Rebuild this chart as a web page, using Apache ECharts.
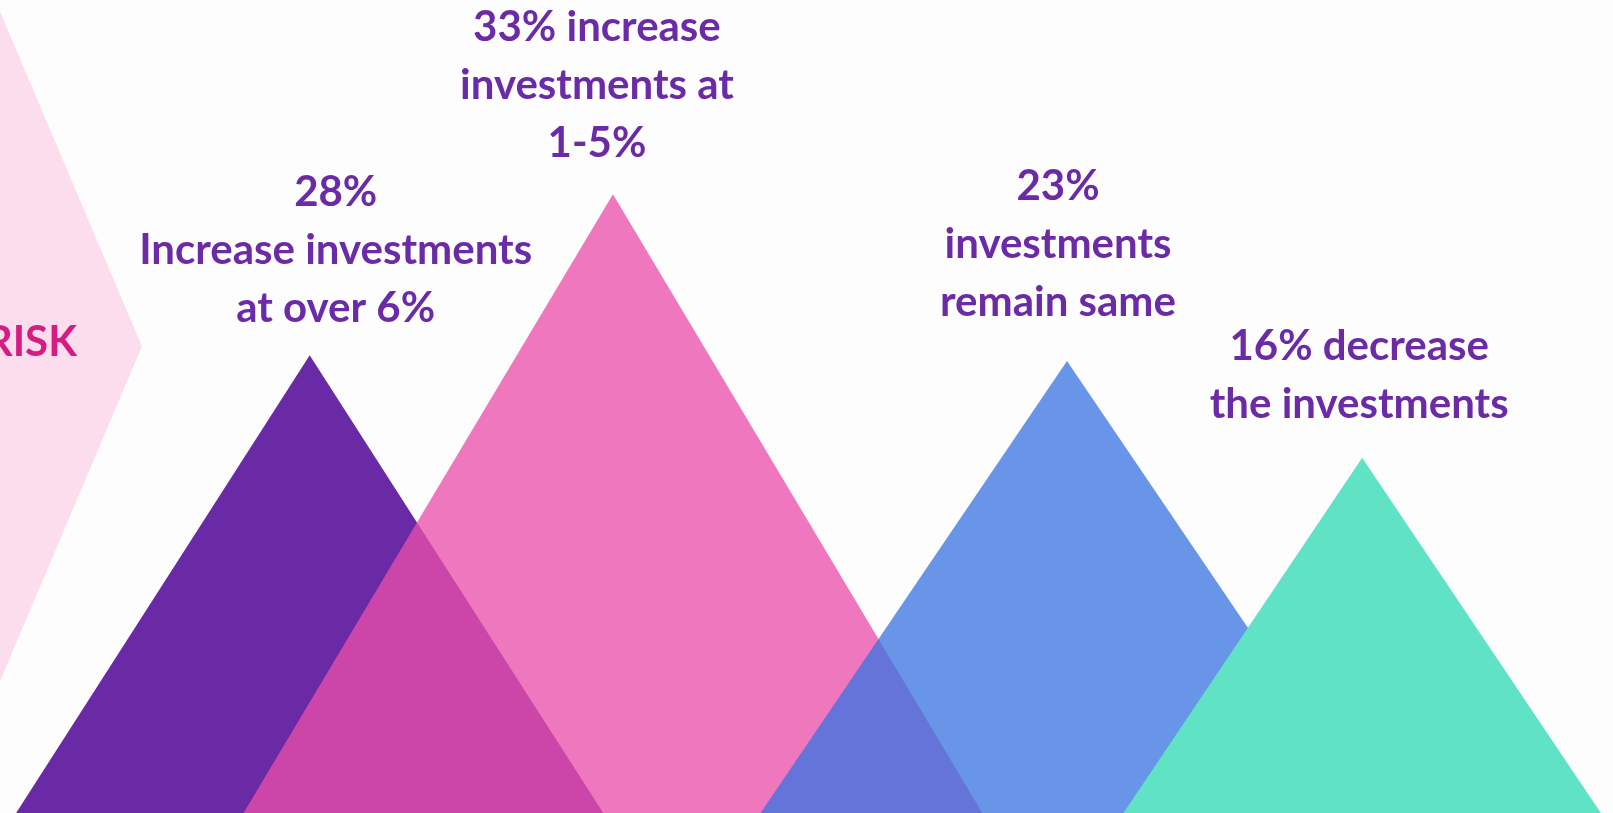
<!DOCTYPE html>
<html>
<head>
<meta charset="utf-8">
<title>Investment triangles</title>
<script src="https://cdn.jsdelivr.net/npm/echarts@6/dist/echarts.min.js"></script>
<style>
  html, body { margin: 0; padding: 0; background: #fdfdfd; }
  #chart { width: 1613px; height: 813px; }
</style>
</head>
<body>
<div id="chart"></div>
<script>
// labels for each peak
const labels = [
    '28%\nIncrease investments\nat over 6%',
    '33% increase\ninvestments at\n1-5%',
    '23%\ninvestments\nremain same',
    '16% decrease\nthe investments'
]
// peak position / height / half width of base (chart units, 0-100)
const peakX = [19.2, 38.0, 66.15, 84.45]
const peakY = [56.3, 76.1, 55.6, 43.7]
const baseHalf = [18.2, 22.9, 19.0, 14.8]

// the cut-off arrow on the left
const riskLabel = 'RISK'
const riskTip = [8.8, 57.4]
const riskHalf = 41.2

let colors = ['#6b2aa5', 'rgba(233,78,171,0.77)', 'rgba(57,116,225,0.76)', '#60e3c5']
let labelShift = [[26, -18], [-16, -22], [-9, -30], [-3, -24]]

let seriesData = []
for (let i = 0; i < labels.length; i++) {
    seriesData.push([peakX[i], peakY[i], baseHalf[i], i])
}

let myChart = echarts.init(document.getElementById('chart'))
let option = {
    backgroundColor: '#fdfdfd',
    animation: false,
    grid: { left: 0, right: 0, top: 0, bottom: 0 },
    xAxis: { type: 'value', min: 0, max: 100, show: false },
    yAxis: { type: 'value', min: 0, max: 100, show: false },
    series: [
        {
            type: 'custom',
            data: [[riskTip[0], riskTip[1], riskHalf]],
            renderItem: function (params, api) {
                let tip = api.coord([api.value(0), api.value(1)])
                let top = api.coord([0, api.value(1) + api.value(2)])
                let bot = api.coord([0, api.value(1) - api.value(2)])
                return {
                    type: 'group',
                    children: [
                        { type: 'polygon', shape: { points: [tip, top, bot] }, style: { fill: '#fcddee' } },
                        {
                            type: 'text',
                            x: tip[0] - 65, y: tip[1] - 4,
                            style: {
                                text: riskLabel, fill: '#d61c80',
                                fontFamily: 'Lato', fontWeight: 'bold', fontSize: 42,
                                align: 'right', verticalAlign: 'middle'
                            }
                        }
                    ]
                }
            }
        },
        {
            type: 'custom',
            data: seriesData,
            renderItem: function (params, api) {
                let i = api.value(3)
                let x = api.value(0), h = api.value(1), w = api.value(2)
                let tip = api.coord([x, h])
                let left = api.coord([x - w, 0])
                let right = api.coord([x + w, 0])
                return {
                    type: 'group',
                    children: [
                        { type: 'polygon', shape: { points: [tip, left, right] }, style: { fill: colors[i] } },
                        {
                            type: 'text',
                            x: tip[0] + labelShift[i][0], y: tip[1] + labelShift[i][1],
                            z2: 10,
                            style: {
                                text: labels[i], fill: '#6b2aa6',
                                fontFamily: 'Lato', fontWeight: 'bold', fontSize: 42,
                                lineHeight: 58,
                                align: 'center', verticalAlign: 'bottom'
                            }
                        }
                    ]
                }
            }
        }
    ]
}
myChart.setOption(option)
window.addEventListener('resize', function () {
    myChart.resize()
})
</script>
</body>
</html>
